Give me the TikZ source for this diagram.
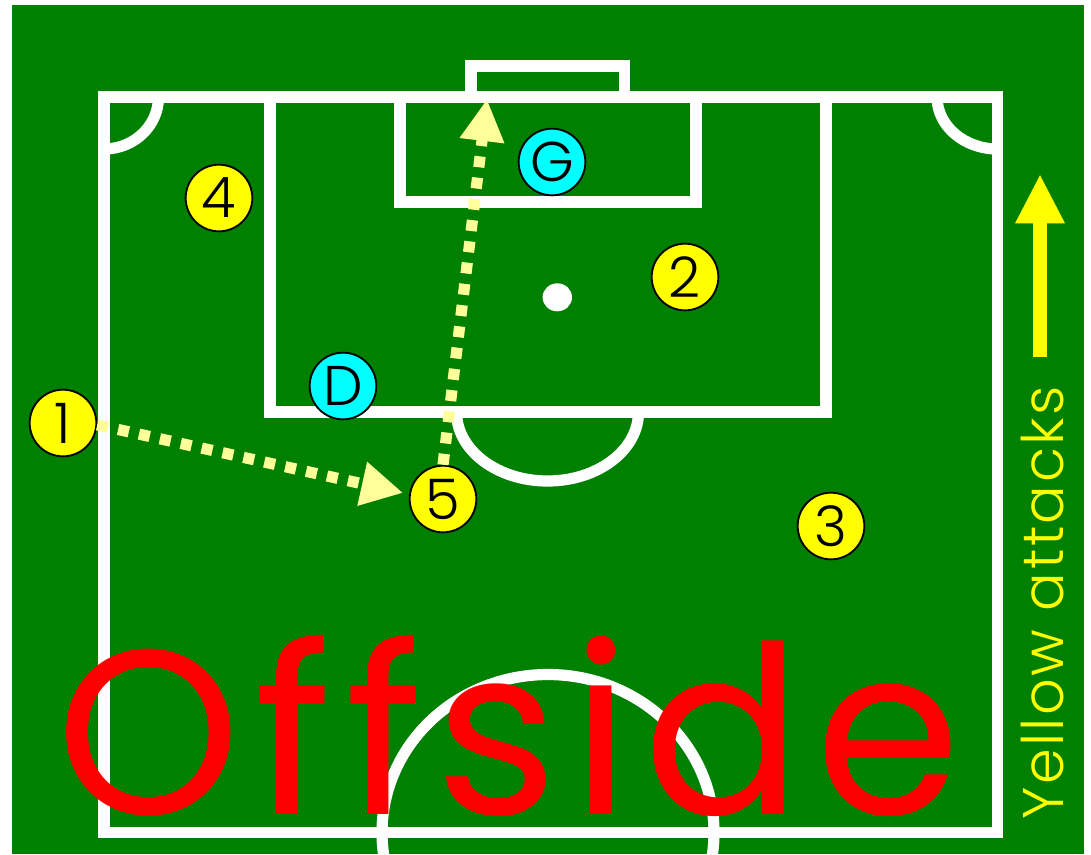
\documentclass[tikz,border=0pt]{standalone}
\usepackage{fontspec}
\usetikzlibrary{arrows.meta}
\setmainfont{Poppins Light}
\newfontfamily\titlefont[LetterSpace=5.8]{Poppins}
\newfontfamily\sidefont[LetterSpace=4.4]{Poppins Light}
\definecolor{pitch}{RGB}{0,128,0}
\definecolor{pale}{RGB}{255,255,153}
\definecolor{yel}{RGB}{255,255,0}
\definecolor{cya}{RGB}{0,255,255}
\definecolor{redd}{RGB}{255,0,0}
\tikzset{
  px/.style={x=0.75pt,y=-0.75pt},
  fieldline/.style={draw=white,line width=8.4pt,line join=miter},
  player/.style={circle,draw=black,line width=1.4pt,fill=yel,minimum size=50pt,inner sep=0pt,font=\fontsize{42pt}{42pt}\selectfont},
  keeper/.style={player,fill=cya},
  pass/.style={draw=pale,line width=8.4pt,dash pattern=on 8.25pt off 7.8pt,-{Triangle[length=31.5pt,width=31.5pt,color=pale]}},
}
\begin{document}
\begin{tikzpicture}[px]
\useasboundingbox (0,0) rectangle (1091,854);
\fill[white] (0,0) rectangle (1091,854);
\fill[pitch] (12,5) rectangle (1084,854);
\begin{scope}
\clip (0,0) rectangle (1091,854);
\draw[fieldline] (104,97) rectangle (997.5,832.5);
\draw[fieldline] (270,97) rectangle (826,412);
\draw[fieldline] (400,97) rectangle (696,202);
\draw[fieldline] (471,97) rectangle (624.5,66);
\draw[fieldline] (158.5,97) arc[start angle=0,end angle=-90,x radius=54.5,y radius=-52];
\draw[fieldline] (937,97) arc[start angle=180,end angle=270,x radius=60.5,y radius=-52];
\draw[fieldline] (456.5,412) arc[start angle=180,end angle=360,x radius=91,y radius=-69];
\draw[fieldline] (548,832.5) ellipse[x radius=166,y radius=158];
\end{scope}
\fill[white] (557.3,297.3) ellipse[x radius=14.7,y radius=14];
\node[player] (p1) at (63,423) {1};
\node[player] (p2) at (685,277) {2};
\node[player] (p3) at (831,526) {3};
\node[player] (p4) at (219,198) {4};
\node[player] (p5) at (443,499) {5};
\node[keeper] (d) at (343,386) {D};
\node[keeper] (g) at (552,162) {G};
\coordinate (goalpt) at (487,99);
\coordinate (dirtail) at (1040,357);
\coordinate (dirhead) at (1040,174);
\draw[pass,shorten >=4.5pt] (p1.-3.5) -- (p5.172);
\draw[pass] (p5.north) -- (goalpt);
\draw[yel,line width=10pt,-{Triangle[length=37pt,width=34.5pt,color=yel]}] (dirtail) -- (dirhead);
\node[anchor=base west,rotate=90,text=yel,inner sep=0pt,font=\sidefont\fontsize{43pt}{43pt}\selectfont] (attack) at (1063,820) {Yellow attacks};
\node[anchor=base west,text=redd,inner sep=0pt,font=\titlefont\fontsize{176pt}{176pt}\selectfont] (title) at (56,814) {Offside};
\end{tikzpicture}
\end{document}
